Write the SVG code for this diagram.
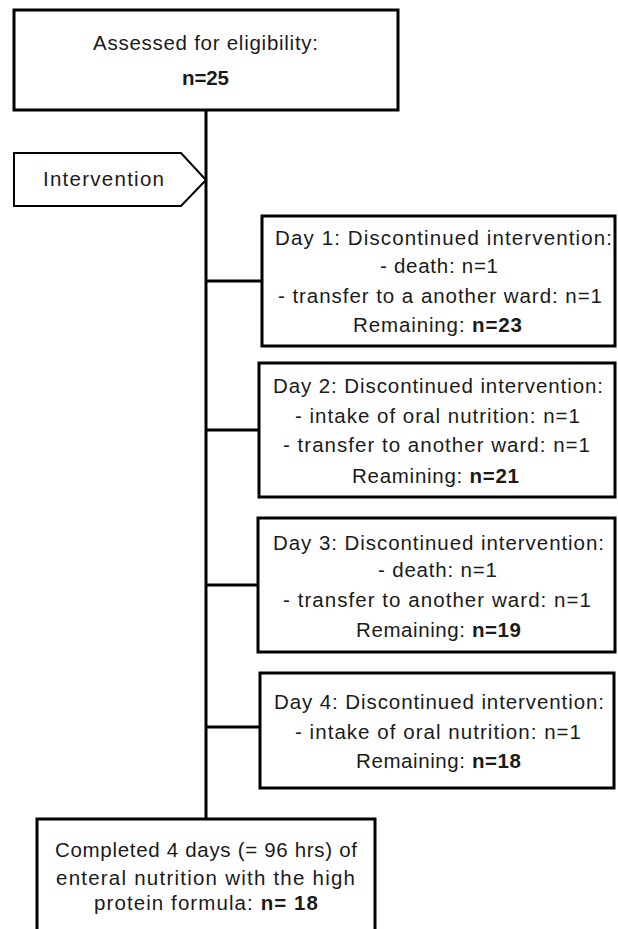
<svg xmlns="http://www.w3.org/2000/svg" width="618" height="929" viewBox="0 0 618 929">
<style>
.box{fill:#fff;stroke:#000;stroke-width:3}
.pent{fill:#fff;stroke:#000;stroke-width:2}
.ln{stroke:#000;stroke-width:3;fill:none}
text{font-family:"Liberation Sans",Arial,sans-serif;font-size:20.5px;fill:#1a1a1a;text-anchor:middle}
.b{font-weight:bold}
</style>
<rect width="618" height="929" fill="#fff"/>
<g id="connectors">
<line class="ln" x1="206" y1="110" x2="206" y2="819"/>
<line class="ln" x1="206" y1="281" x2="262" y2="281"/>
<line class="ln" x1="206" y1="430" x2="259" y2="430"/>
<line class="ln" x1="206" y1="585" x2="258" y2="585"/>
<line class="ln" x1="206" y1="727" x2="260" y2="727"/>
</g>
<g id="assessed">
<rect class="box" x="14" y="10" width="384" height="100"/>
<text x="205.5" y="50" textLength="225" lengthAdjust="spacing">Assessed for eligibility:</text>
<text x="205.5" y="85" class="b" textLength="47" lengthAdjust="spacing">n=25</text>
</g>
<g id="intervention">
<polygon class="pent" points="14,153 181,153 206,180 181,206 14,206"/>
<text x="103.5" y="186" textLength="121" lengthAdjust="spacing">Intervention</text>
</g>
<g id="day1">
<rect class="box" x="262" y="216" width="353" height="130"/>
<text x="443.5" y="245" textLength="337" lengthAdjust="spacing">Day 1: Discontinued intervention:</text>
<text x="439" y="273" textLength="118" lengthAdjust="spacing">- death: n=1</text>
<text x="440" y="303" textLength="324" lengthAdjust="spacing">- transfer to a another ward: n=1</text>
<text x="437.5" y="332" textLength="169" lengthAdjust="spacing">Remaining: <tspan class="b">n=23</tspan></text>
</g>
<g id="day2">
<rect class="box" x="259" y="363" width="356" height="134"/>
<text x="438" y="393" textLength="330" lengthAdjust="spacing">Day 2: Discontinued intervention:</text>
<text x="437.5" y="423" textLength="285" lengthAdjust="spacing">- intake of oral nutrition: n=1</text>
<text x="436.5" y="452" textLength="307" lengthAdjust="spacing">- transfer to another ward: n=1</text>
<text x="435.5" y="483" textLength="167" lengthAdjust="spacing">Reamining: <tspan class="b">n=21</tspan></text>
</g>
<g id="day3">
<rect class="box" x="258" y="518" width="357" height="134"/>
<text x="438.5" y="550" textLength="331" lengthAdjust="spacing">Day 3: Discontinued intervention:</text>
<text x="437.5" y="577" textLength="119" lengthAdjust="spacing">- death: n=1</text>
<text x="437" y="607" textLength="308" lengthAdjust="spacing">- transfer to another ward: n=1</text>
<text x="438.5" y="637" textLength="165" lengthAdjust="spacing">Remaining: <tspan class="b">n=19</tspan></text>
</g>
<g id="day4">
<rect class="box" x="260" y="673" width="354" height="115"/>
<text x="439" y="709" textLength="330" lengthAdjust="spacing">Day 4: Discontinued intervention:</text>
<text x="438" y="739" textLength="286" lengthAdjust="spacing">- intake of oral nutrition: n=1</text>
<text x="438.5" y="768" textLength="165" lengthAdjust="spacing">Remaining: <tspan class="b">n=18</tspan></text>
</g>
<g id="completed">
<rect class="box" x="37" y="819" width="338" height="125"/>
<text x="206" y="857" textLength="302" lengthAdjust="spacing">Completed 4 days (= 96 hrs) of</text>
<text x="205.5" y="885" textLength="299" lengthAdjust="spacing">enteral nutrition with the high</text>
<text x="206" y="910" textLength="224" lengthAdjust="spacing">protein formula: <tspan class="b">n= 18</tspan></text>
</g>
</svg>
